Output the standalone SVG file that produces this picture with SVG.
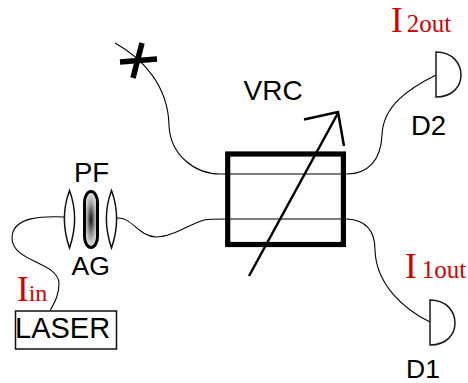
<svg xmlns="http://www.w3.org/2000/svg" width="468" height="383" viewBox="0 0 468 383">
<style>
.s{font-family:"Liberation Sans",Arial,sans-serif;fill:#000}
.r{font-family:"Liberation Serif","Times New Roman",serif;fill:#d40000}
.f{fill:none;stroke:#000;stroke-width:1.1}
.d{fill:#fff;stroke:#1a1a1a;stroke-width:1.5}
.l{fill:#fff;stroke:#111;stroke-width:1.5}
.a{fill:none;stroke:#000;stroke-width:2.500}
.x{fill:none;stroke:#000;stroke-width:5.500}
</style>
<defs>
<radialGradient id="ag" cx="0.5" cy="0.5" r="0.5">
<stop offset="0" stop-color="#111"/><stop offset="0.55" stop-color="#999"/><stop offset="1" stop-color="#e8e8e8"/>
</radialGradient>
</defs>
<g id="connectors">
<path class="f" d="M65 217C45 216 12 216 12 238C12 262 58 262 59 283C59 296 54 303 50 311"/>
<path class="f" d="M117 218C132 217 138 236 156 237C172 237 190 224 204 220C210 219 220 219 226 219L347 219C365 220 375 230 375 250C376 285 405 310 430 322"/>
<path class="f" d="M115 43C142 58 168 85 169 125C170 155 195 174 220 174L347 174C368 174 381 160 382 135C383 105 410 88 436 75"/>
</g>
<g id="cross">
<path class="x" d="M142 43L133 78"/>
<path class="x" d="M120 62L157 59"/>
</g>
<g id="laser">
<rect x="15.500" y="311" width="101" height="38" fill="#fff" stroke="#111" stroke-width="1.500"/>
<text class="s" x="15" y="338" font-size="29">LASER</text>
</g>
<g id="lens1"><path class="l" d="M69.500 190.500C76 208 76 229 69.500 248C63 229 63 208 69.500 190.500Z"/></g>
<g id="ag-element"><rect x="84.500" y="191.500" width="13" height="56" rx="6.500" ry="11" fill="url(#ag)" stroke="#000" stroke-width="3"/></g>
<g id="lens2"><path class="l" d="M111.500 190.500C118 208 118 229 111.500 248C105 229 105 208 111.500 190.500Z"/></g>
<text class="s" x="74" y="182" font-size="27.500">PF</text>
<text class="s" x="71.500" y="275" font-size="26.500">AG</text>
<text class="r" x="17" y="301" font-size="35">I<tspan font-size="24">in</tspan></text>
<g id="vrc">
<rect x="227.700" y="154" width="115.700" height="90.500" fill="none" stroke="#000" stroke-width="5.200"/>
<path class="a" d="M249 276L338 113"/>
<path class="a" d="M304 119.500L338 112L344 146"/>
<text class="s" x="243.500" y="100" font-size="28">VRC</text>
</g>
<g id="d2">
<path class="d" d="M436 52C453 52 461 64 461 75C461 86 453 97 436 97Z"/>
<text class="s" x="411" y="135" font-size="27.500">D2</text>
<text class="r" x="391" y="32" font-size="35">I<tspan dx="4" font-size="25">2out</tspan></text>
</g>
<g id="d1">
<path class="d" d="M430 300C447 300 455 312 455 323C455 334 447 345 430 345Z"/>
<text class="s" x="406" y="377.500" font-size="26.500">D1</text>
<text class="r" x="405" y="278" font-size="35">I<tspan dx="5" font-size="25">1out</tspan></text>
</g>
</svg>
